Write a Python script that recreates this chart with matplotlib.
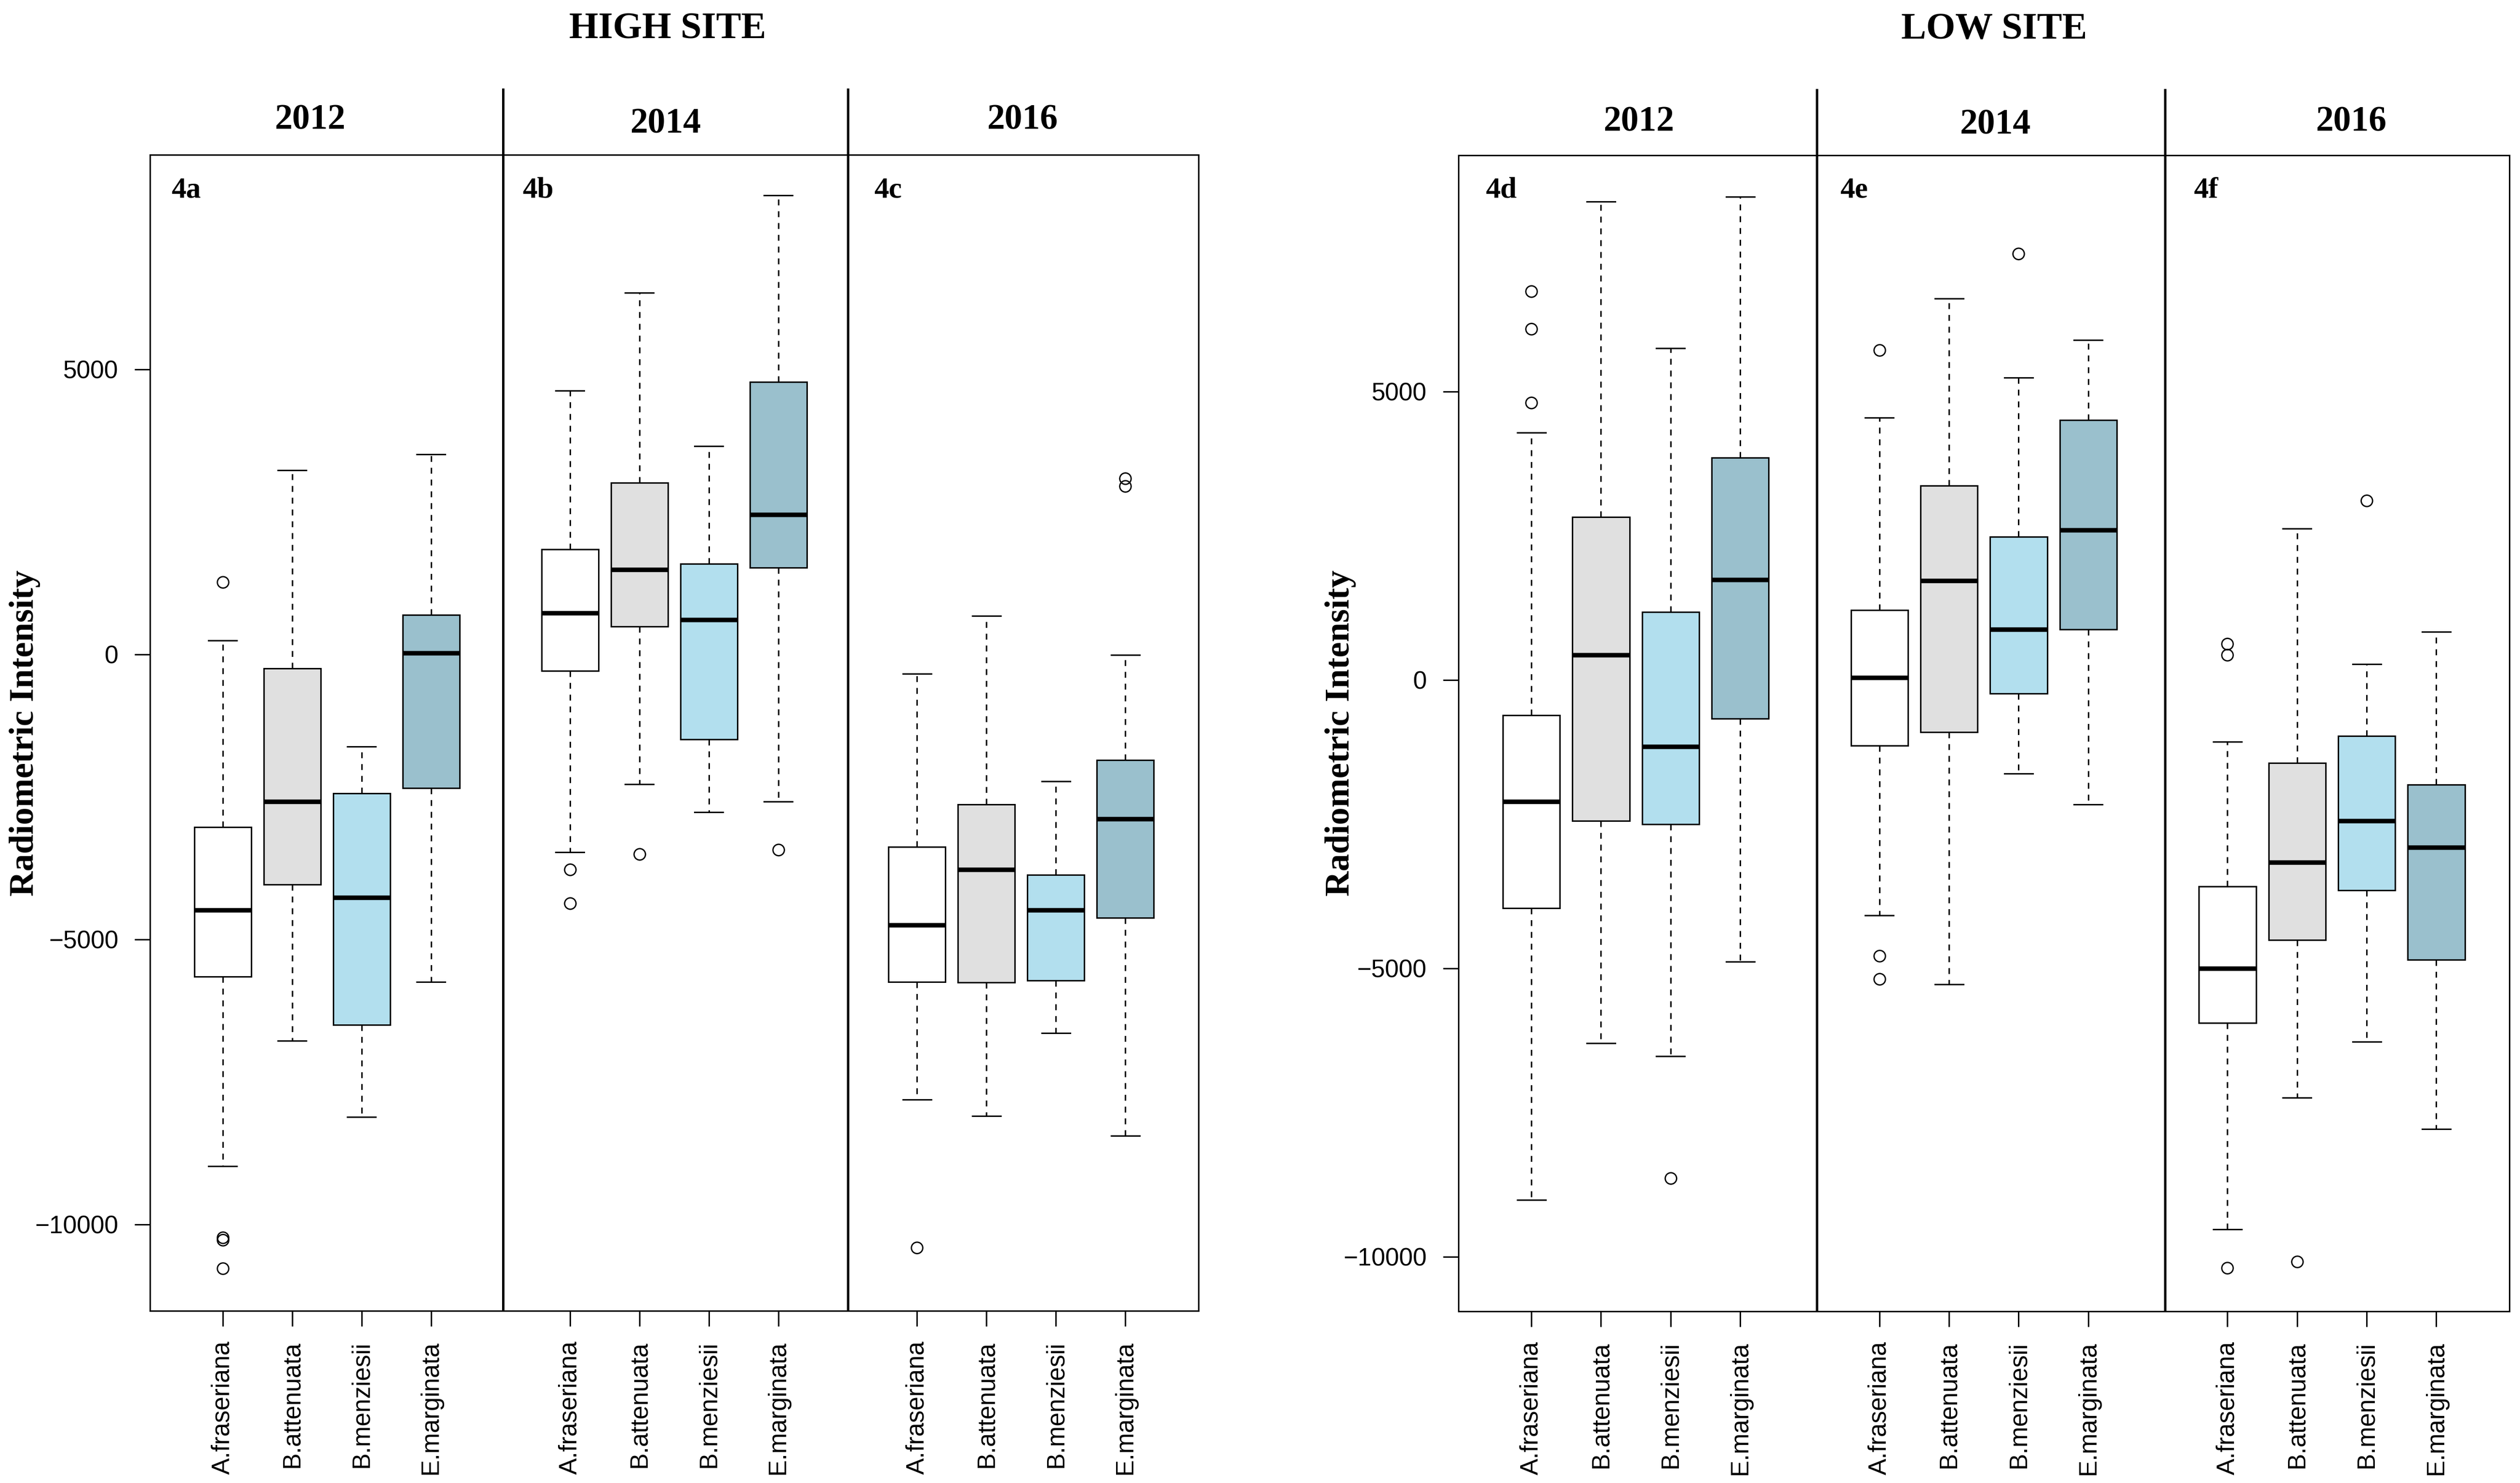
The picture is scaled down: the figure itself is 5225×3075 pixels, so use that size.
import matplotlib
matplotlib.use("Agg")
import matplotlib.pyplot as plt

plt.rcParams["font.family"] = ["Liberation Sans", "DejaVu Sans"]

species = ["A.fraseriana", "B.attenuata", "B.menziesii", "E.marginata"]
years = ["2012", "2014", "2016"]
box_colors = ["#FFFFFF", "#E0E0E0", "#B2DFEE", "#9AC0CD"]

# box statistics, ordered year by year (2012, 2014, 2016),
# species within each year
high_whislo = [-8977, -6779, -8116, -5746, -3469, -2277, -2767, -2582, -7811, -8102, -6646, -8447]
high_q1 = [-5653, -4038, -6501, -2343, -291, 490, -1496, 1522, -5746, -5759, -5719, -4620]
high_med = [-4488, -2582, -4263, 26, 728, 1483, 609, 2449, -4753, -3773, -4488, -2886]
high_q3 = [-3032, -252, -2436, 688, 1840, 3005, 1589, 4779, -3376, -2635, -3866, -1853]
high_whishi = [238, 3231, -1615, 3509, 4620, 6341, 3654, 8049, -344, 675, -2224, -13]
high_fliers = [
    [1262, -10231, -10273, -10768], [], [], [],
    [-3773, -4369], [-3508], [], [-3429],
    [-10406], [], [], [3085, 2952],
]

low_whislo = [-9016, -6298, -6520, -4887, -4077, -5279, -1620, -2156, -9525, -7239, -6272, -7787]
low_q1 = [-3959, -2443, -2496, -666, -1137, -902, -235, 875, -5945, -4508, -3645, -4847]
low_med = [-2104, 431, -1150, 1738, 39, 1725, 875, 2600, -5004, -3162, -2443, -2901]
low_q3 = [-614, 2822, 1176, 3854, 1215, 3371, 2483, 4508, -3580, -1437, -967, -1816]
low_whishi = [4286, 8297, 5749, 8375, 4547, 6611, 5239, 5893, -1071, 2626, 274, 836]
low_fliers = [
    [6742, 6089, 4808], [], [-8637], [],
    [5723, -4782, -5187], [], [7395], [],
    [627, 431, -10191], [-10087], [3110], [],
]

positions = [1, 2, 3, 4, 6, 7, 8, 9, 11, 12, 13, 14]
W, H = 5225, 3075


def make_stats(whislo, q1, med, q3, whishi, fliers):
    stats = []
    for i in range(len(med)):
        stats.append(
            {
                "whislo": whislo[i],
                "q1": q1[i],
                "med": med[i],
                "q3": q3[i],
                "whishi": whishi[i],
                "fliers": fliers[i],
            }
        )
    return stats


def draw_site(ax, stats, ylim, dividers, year_x, year_base, tag_x, tags):
    bp = ax.bxp(
        stats,
        positions=positions,
        widths=0.82,
        capwidths=0.41,
        patch_artist=True,
        boxprops=dict(edgecolor="black", linewidth=2.2),
        medianprops=dict(color="black", linewidth=6.8, solid_capstyle="butt"),
        whiskerprops=dict(color="black", linewidth=2.2, linestyle=(0, (4, 4))),
        capprops=dict(color="black", linewidth=2.2),
        flierprops=dict(
            marker="o",
            markerfacecolor="none",
            markeredgecolor="black",
            markersize=17,
            markeredgewidth=2.0,
            linestyle="none",
        ),
    )
    for i, patch in enumerate(bp["boxes"]):
        patch.set_facecolor(box_colors[i % 4])

    ax.set_xlim(-0.05, 15.05)
    ax.set_ylim(*ylim)
    ax.set_yticks([-10000, -5000, 0, 5000])
    ax.set_xticks(positions)
    ax.set_xticklabels(species * 3, rotation=90)
    ax.tick_params(axis="both", length=23, width=2.2, labelsize=37, direction="out")
    ax.tick_params(axis="y", pad=24)
    ax.tick_params(axis="x", pad=22)
    for sp in ax.spines.values():
        sp.set_linewidth(2.2)

    trans = ax.get_xaxis_transform()
    for x in dividers:
        ax.plot([x, x], [0, 1.0576], transform=trans, color="black",
                linewidth=3.6, clip_on=False, solid_capstyle="butt")

    for label, x, yb in zip(years, year_x, year_base):
        ax.text(x, 1 - (yb - 321) / 2397.0 + 0.0, label, transform=trans,
                ha="center", va="baseline", fontsize=53, fontweight="bold",
                family="Liberation Serif")
    for label, x in zip(tags, tag_x):
        ax.text(x, 1 - (409 - 321) / 2397.0, label, transform=trans,
                ha="left", va="baseline", fontsize=44, fontweight="bold",
                family="Liberation Serif")


fig = plt.figure(figsize=(W / 100, H / 100), dpi=100)

ax_high = fig.add_axes([310.7 / W, 1 - 2718 / H, (2484.5 - 310.7) / W, (2718 - 321) / H])
ax_low = fig.add_axes([3023.6 / W, 1 - 2719 / H, (5203 - 3023.6) / W, (2719 - 322) / H])

draw_site(
    ax_high,
    make_stats(high_whislo, high_q1, high_med, high_q3, high_whishi, high_fliers),
    (-11516, 8760),
    [5.04, 10.0],
    [2.26, 7.38, 12.52],
    [268, 275, 268],
    [0.256, 5.313, 10.38],
    ["4a", "4b", "4c"],
)
draw_site(
    ax_low,
    make_stats(low_whislo, low_q1, low_med, low_q3, low_whishi, low_fliers),
    (-10945, 9097),
    [5.1, 10.1],
    [2.55, 7.67, 12.78],
    [270, 277, 270],
    [0.341, 5.432, 10.51],
    ["4d", "4e", "4f"],
)

for ax, xc in [(ax_high, 52), (ax_low, 2780)]:
    fig.text(xc / W, 1 - 1520 / H, "Radiometric Intensity", rotation=90,
             ha="center", va="center", fontsize=52, fontweight="bold",
             family="Liberation Serif")

fig.text(1384 / W, 1 - 79 / H, "HIGH SITE", ha="center", va="baseline",
         fontsize=56, fontweight="bold", family="Liberation Serif")
fig.text(4135 / W, 1 - 80 / H, "LOW SITE", ha="center", va="baseline",
         fontsize=56, fontweight="bold", family="Liberation Serif")

fig.savefig("out.png", dpi=100)
